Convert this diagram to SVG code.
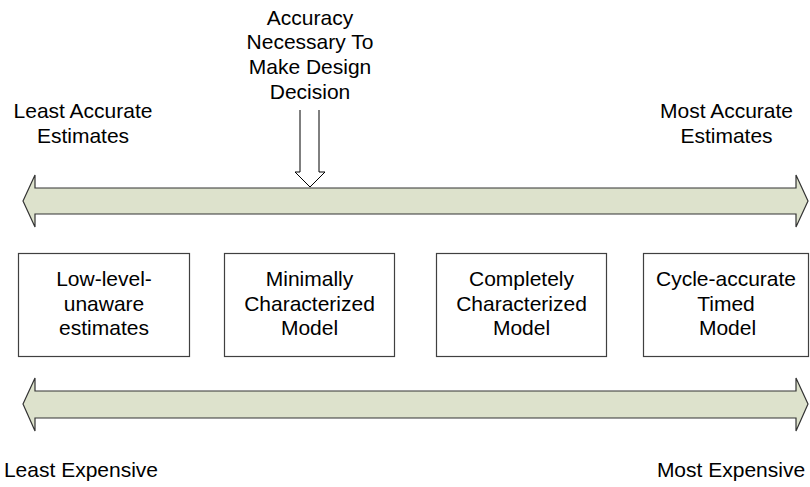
<svg xmlns="http://www.w3.org/2000/svg" width="810" height="487" viewBox="0 0 810 487">
<style>
text{font-family:"Liberation Sans",Arial,sans-serif;font-size:21px;fill:#000;text-anchor:middle}
.box{fill:#fff;stroke:#404040;stroke-width:1.2}
.band{fill:#DDE2CC;stroke:#333;stroke-width:1.2;stroke-linejoin:miter}
.down{fill:#fff;stroke:#000;stroke-width:1}
</style>
<rect width="810" height="487" fill="#fff"/>
<g id="connectors">
<polygon id="accuracy-band" class="band" points="23,201 35,175 35,188 796,188 796,175 808,201 796,227 796,214 35,214 35,227"/>
<polygon id="cost-band" class="band" points="23,404 35,378 35,391 796,391 796,378 808,404 796,431 796,418 35,418 35,431"/>
<path id="decision-arrow" class="down" d="M300,110 V172 H295 L310,187 L325,172 H319 V110"/>
</g>
<g id="label-decision">
<text x="310" y="25">Accuracy</text>
<text x="310" y="49">Necessary To</text>
<text x="310" y="74">Make Design</text>
<text x="310" y="99">Decision</text>
</g>
<g id="label-least-accurate">
<text x="83" y="118">Least Accurate</text>
<text x="83" y="143">Estimates</text>
</g>
<g id="label-most-accurate">
<text x="726.5" y="118">Most Accurate</text>
<text x="726.5" y="143">Estimates</text>
</g>
<g id="node-low-level">
<rect class="box" x="18.5" y="253.5" width="171" height="103"/>
<text x="104" y="286">Low-level-</text>
<text x="104" y="311">unaware</text>
<text x="104" y="335">estimates</text>
</g>
<g id="node-minimal">
<rect class="box" x="224.5" y="253.5" width="170" height="103"/>
<text x="309.5" y="286">Minimally</text>
<text x="309.5" y="311">Characterized</text>
<text x="309.5" y="335">Model</text>
</g>
<g id="node-complete">
<rect class="box" x="436.5" y="253.5" width="170" height="103"/>
<text x="521.5" y="286">Completely</text>
<text x="521.5" y="311">Characterized</text>
<text x="521.5" y="335">Model</text>
</g>
<g id="node-cycle">
<rect class="box" x="643.5" y="253.5" width="165" height="103"/>
<text x="726" y="286">Cycle-accurate</text>
<text x="726" y="311">Timed</text>
<text x="727.5" y="335">Model</text>
</g>
<g id="label-least-expensive">
<text x="81" y="477">Least Expensive</text>
</g>
<g id="label-most-expensive">
<text x="731" y="477">Most Expensive</text>
</g>
</svg>
